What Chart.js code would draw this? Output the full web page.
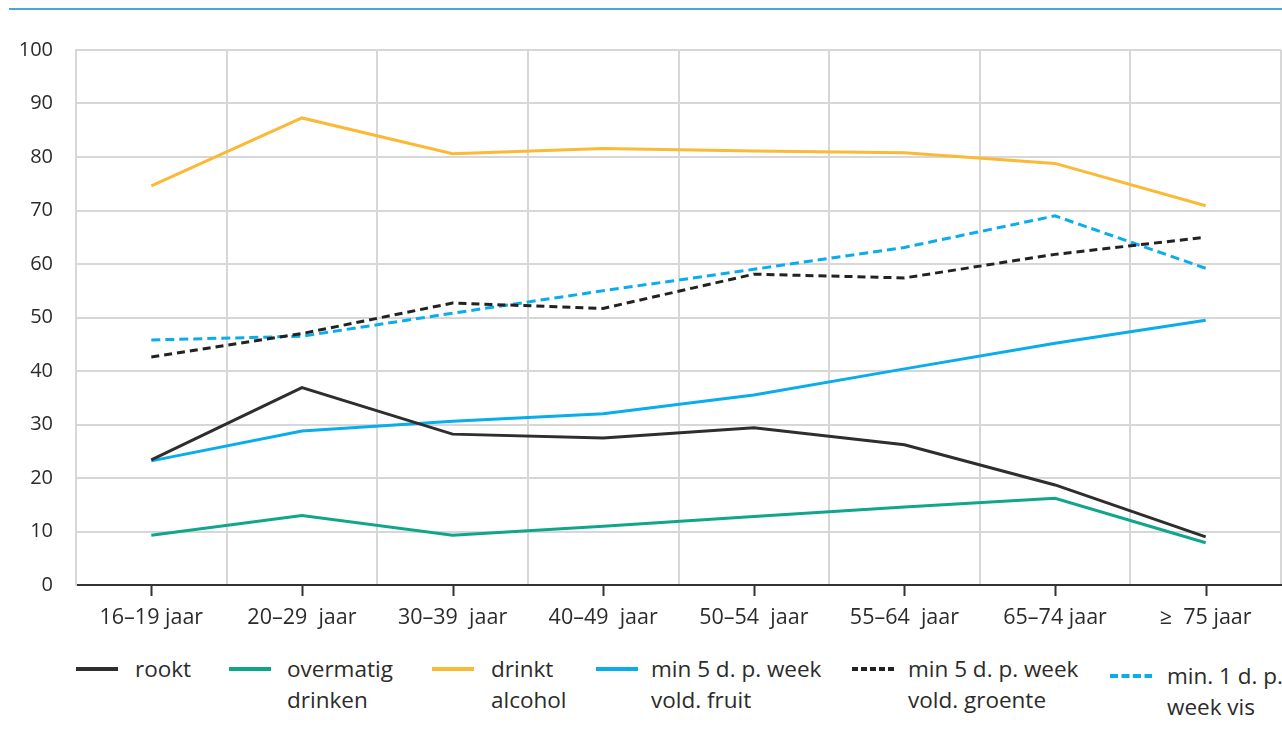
<!DOCTYPE html>
<html>
<head>
<meta charset="utf-8">
<script src="https://cdn.jsdelivr.net/npm/chart.js"></script>
<style>
  body { margin: 0; background: #fff; }
  #wrap { position: relative; width: 1282px; height: 742px; overflow: hidden; font-family: "Open Sans", sans-serif; color: #2b2b2b; }
  #topline { position: absolute; left: 9px; right: 0; top: 8px; height: 2px; background: #45a7db; }
  #c { position: absolute; left: 0; top: 0; }
  .item { position: absolute; top: 653px; font-size: 22.5px; line-height: 31px; }
  .item svg { position: absolute; left: 0; top: 13px; }
  .item span { position: absolute; white-space: nowrap; }
</style>
</head>
<body>
<div id="wrap">
  <div id="topline"></div>
  <canvas id="c" width="1282" height="650"></canvas>
  <div id="legend"></div>
</div>
<script>
// age groups
const categories = ['16–19 jaar', '20–29  jaar', '30–39  jaar', '40–49  jaar', '50–54  jaar', '55–64  jaar', '65–74 jaar', '≥  75 jaar'];

// percentages per group
const rookt = [23.4, 36.9, 28.2, 27.5, 29.4, 26.2, 18.7, 9.0];
const overmatigDrinken = [9.3, 13.0, 9.3, 11.0, 12.8, 14.6, 16.2, 7.9];
const drinktAlcohol = [74.6, 87.3, 80.6, 81.6, 81.1, 80.8, 78.8, 70.9];
const fruit = [23.2, 28.8, 30.6, 32.0, 35.5, 40.4, 45.2, 49.5];
const groente = [42.6, 47.0, 52.7, 51.7, 58.1, 57.4, 61.8, 65.0];
const vis = [45.8, 46.5, 50.8, 55.0, 59.0, 63.1, 69.0, 59.2];

const yMin = 0, yMax = 100, yStep = 10;

const datasets = [
  { label: ['rookt'], data: rookt, borderColor: '#2e2e2e', dash: [] },
  { label: ['overmatig', 'drinken'], data: overmatigDrinken, borderColor: '#0fa68a', dash: [] },
  { label: ['drinkt', 'alcohol'], data: drinktAlcohol, borderColor: '#fbb936', dash: [] },
  { label: ['min 5 d. p. week', 'vold. fruit'], data: fruit, borderColor: '#0aadec', dash: [] },
  { label: ['min 5 d. p. week', 'vold. groente'], data: groente, borderColor: '#222222', dash: [8, 5] },
  { label: ['min. 1 d. p.', 'week vis'], data: vis, borderColor: '#0aadec', dash: [9, 5] }
];

// legend layout (px)
const legendLeft = [76, 229, 432, 596, 852, 1110];
const legendTextLeft = [59, 58, 59, 55, 56, 57];
const legendDash = ['', '', '', '', '6,3', '8,3.5'];

const tickMarks = {
  id: 'tickMarks',
  afterDraw(chart) {
    const x = chart.scales.x, ctx = chart.ctx, b = chart.chartArea.bottom;
    ctx.save();
    ctx.strokeStyle = '#333';
    ctx.lineWidth = 2;
    for (let i = 0; i < categories.length; i++) {
      const px = Math.round(x.getPixelForTick(i)) + 0.5;
      ctx.beginPath();
      ctx.moveTo(px, b);
      ctx.lineTo(px, b + 11);
      ctx.stroke();
    }
    ctx.restore();
  }
};

new Chart(document.getElementById('c'), {
  type: 'line',
  data: {
    labels: categories,
    datasets: datasets.map(d => ({
      label: d.label.join(' '),
      data: d.data,
      borderColor: d.borderColor,
      backgroundColor: d.borderColor,
      borderDash: d.dash,
      borderWidth: 3,
      pointRadius: 0,
      tension: 0,
      fill: false
    }))
  },
  options: {
    responsive: false,
    animation: false,
    devicePixelRatio: 1,
    layout: { padding: { top: 50, right: 1, left: 0, bottom: 0 } },
    plugins: { legend: { display: false }, tooltip: { enabled: false } },
    scales: {
      x: {
        offset: true,
        grid: { offset: true, color: '#d7d7d7', lineWidth: 2, drawTicks: false },
        border: { display: true, color: '#333', width: 2 },
        ticks: { color: '#2b2b2b', padding: 20, maxRotation: 0, autoSkip: false, font: { family: 'Open Sans', size: 21.5 } },
        afterFit(s) { s.height = 65; }
      },
      y: {
        min: yMin,
        max: yMax,
        grid: { color: c => c.tick.value === 0 ? 'rgba(0,0,0,0)' : '#d7d7d7', lineWidth: 2, drawTicks: false },
        border: { display: true, color: '#d7d7d7', width: 2 },
        ticks: { stepSize: yStep, color: '#2b2b2b', padding: 23, font: { family: 'Open Sans', size: 20 } },
        afterFit(s) { s.width = 76; }
      }
    }
  },
  plugins: [tickMarks]
});

// html legend with two-line labels
const legend = document.getElementById('legend');
datasets.forEach((d, i) => {
  const item = document.createElement('div');
  item.className = 'item';
  item.style.left = legendLeft[i] + 'px';
  if (i === 5) item.style.top = '660px';
  item.innerHTML =
    '<svg width="44" height="6"><line x1="0" y1="3" x2="42" y2="3" stroke="' + d.borderColor +
    '" stroke-width="4" stroke-dasharray="' + legendDash[i] + '"/></svg>' +
    '<span style="left:' + legendTextLeft[i] + 'px">' + d.label.join('<br>') + '</span>';
  legend.appendChild(item);
});
</script>
</body>
</html>
